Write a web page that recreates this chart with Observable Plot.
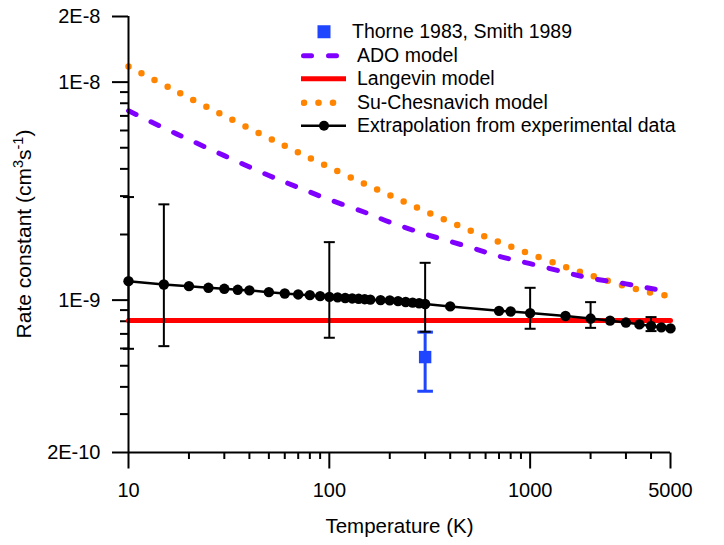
<!DOCTYPE html>
<html><head><meta charset="utf-8">
<script src="https://cdn.jsdelivr.net/npm/d3@7"></script>
<script src="https://cdn.jsdelivr.net/npm/@observablehq/plot@0.6"></script>
<style>
body{margin:0;background:#fff;font-family:'Liberation Sans',Arial,sans-serif;}
#wrap{position:relative;width:724px;height:545px;}
#legend{position:absolute;left:301px;top:20px;font-size:19.5px;line-height:23.5px;color:#000;}
.row{display:flex;align-items:center;height:23.5px;white-space:nowrap;}
.row svg{flex:none;display:block;}
</style></head><body><div id="wrap"><div id="legend"></div></div>
<script>
// ---- data ----
const xDomain = [10, 5000];
const yDomain = [2e-10, 2e-8];
const xMajor = [10, 100, 1000, 5000];
const xMajorLabels = ["10", "100", "1000", "5000"];
const xMinor = [20,30,40,50,60,70,80,90,200,300,400,500,600,700,800,900,2000,3000,4000];
const yMajor = [2e-10, 1e-9, 1e-8, 2e-8];
const yMajorLabels = ["2E-10", "1E-9", "1E-8", "2E-8"];
const yMinor = [3e-10,4e-10,5e-10,6e-10,7e-10,8e-10,9e-10,2e-9,3e-9,4e-9,5e-9,6e-9,7e-9,8e-9,9e-9];

const expTemp = [10,15,20,25,30,35,40,50,60,70,80,90,100,110,120,130,140,150,160,180,200,220,240,260,280,300,400,700,800,1000,1500,2000,2500,3000,3500,4000,4500,5000];
const expRate = [1.222e-9,1.18e-9,1.159e-9,1.139e-9,1.127e-9,1.115e-9,1.108e-9,1.088e-9,1.073e-9,1.062e-9,1.054e-9,1.043e-9,1.035e-9,1.029e-9,1.023e-9,1.018e-9,1.014e-9,1.010e-9,1.005e-9,1.000e-9,0.997e-9,0.990e-9,0.980e-9,0.974e-9,0.967e-9,0.960e-9,0.936e-9,0.893e-9,0.887e-9,0.872e-9,0.846e-9,0.823e-9,0.805e-9,0.789e-9,0.774e-9,0.761e-9,0.750e-9,0.742e-9];

const errTemp = [10, 15, 100, 300, 1000, 2000, 4000];
const errLow  = [0.598e-9, 0.615e-9, 0.672e-9, 0.716e-9, 0.739e-9, 0.746e-9, 0.721e-9];
const errHigh = [2.97e-9, 2.75e-9, 1.845e-9, 1.483e-9, 1.139e-9, 0.979e-9, 0.836e-9];

const thorneTemp = [300];
const thorneRate = [0.548e-9];
const thorneLow  = [0.382e-9];
const thorneHigh = [0.713e-9];

const langevinTemp = [10, 5000];
const langevinRate = [8.07e-10, 8.07e-10];

const modelTemp = [10,15,20,30,50,70,100,150,200,300,500,700,1000,1500,2000,3000,4000,5000];
const adoRate = [7.39e-9,6.16e-9,5.45e-9,4.60e-9,3.73e-9,3.29e-9,2.89e-9,2.53e-9,2.28e-9,2.01e-9,1.75e-9,1.59e-9,1.47e-9,1.34e-9,1.26e-9,1.187e-9,1.13e-9,1.09e-9];
const scRate  = [11.78e-9,9.72e-9,8.47e-9,7.01e-9,5.54e-9,4.76e-9,4.07e-9,3.41e-9,3.03e-9,2.56e-9,2.09e-9,1.85e-9,1.63e-9,1.42e-9,1.30e-9,1.156e-9,1.082e-9,1.04e-9];

const seriesNames = ["Thorne 1983, Smith 1989", "ADO model", "Langevin model", "Su-Chesnavich model", "Extrapolation from experimental data"];
const colors = {blue: "#1f45ff", purple: "#8000ff", red: "#ff0000", orange: "#ff8500", black: "#000000"};

// ---- tables ----
const exp = expTemp.map((T, i) => ({T, k: expRate[i]}));
const err = errTemp.map((T, i) => ({T, lo: errLow[i], hi: errHigh[i]}));
const thorne = thorneTemp.map((T, i) => ({T, k: thorneRate[i], lo: thorneLow[i], hi: thorneHigh[i]}));
const langevin = langevinTemp.map((T, i) => ({T, k: langevinRate[i]}));
const ado = modelTemp.map((T, i) => ({T, k: adoRate[i]}));
const sc = modelTemp.map((T, i) => ({T, k: scRate[i]}));
const xTicks = xMajor.map((v, i) => ({v, label: xMajorLabels[i], base: yDomain[0]}));
const yLabel = new Map(yMajor.map((v, i) => [v, yMajorLabels[i]]));

// custom symbols: horizontal error-bar cap, and a downward tick of fixed length
const cap = {draw(ctx, size) { const r = Math.sqrt(size / Math.PI); ctx.moveTo(-r, 0); ctx.lineTo(r, 0); }};
const downTick = {draw(ctx, size) { const r = Math.sqrt(size / Math.PI); ctx.moveTo(0, 0); ctx.lineTo(0, r); }};

const plot = Plot.plot({
  width: 724, height: 545,
  marginLeft: 128, marginRight: 54, marginTop: 16, marginBottom: 93,
  x: {type: "log", domain: xDomain},
  y: {type: "log", domain: yDomain},
  style: {fontFamily: "'Liberation Sans', Arial, sans-serif", fontSize: "20px", color: "black", background: "white"},
  marks: [
    Plot.axisY(yMinor, {tickSize: 8, tickFormat: () => "", strokeWidth: 2, label: null}),
    Plot.axisY(yMajor, {tickSize: 16, tickPadding: 12, tickFormat: d => yLabel.get(d), strokeWidth: 2, label: null}),
    Plot.axisX(xMinor, {tickSize: 7, tickFormat: () => "", strokeWidth: 2, label: null}),
    Plot.dot(xTicks, {x: "v", y: "base", symbol: downTick, r: 16, stroke: "black", strokeWidth: 2, fill: "none"}),
    Plot.text(xTicks, {x: "v", y: "base", text: "label", dy: 30, lineAnchor: "top", fill: "black"}),
    Plot.line(langevin, {x: "T", y: "k", stroke: colors.red, strokeWidth: 5}),
    Plot.line(sc, {x: "T", y: "k", stroke: colors.orange, strokeWidth: 6.5, strokeDasharray: "0,14.6", strokeLinecap: "round", curve: "catmull-rom"}),
    Plot.line(ado, {x: "T", y: "k", stroke: colors.purple, strokeWidth: 5, strokeDasharray: "8.5,16.5", strokeLinecap: "round", curve: "catmull-rom"}),
    Plot.ruleX(thorne, {x: "T", y1: "lo", y2: "hi", stroke: colors.blue, strokeWidth: 3}),
    Plot.dot(thorne, {x: "T", y: "lo", symbol: cap, r: 7.8, stroke: colors.blue, strokeWidth: 3, fill: "none"}),
    Plot.dot(thorne, {x: "T", y: "hi", symbol: cap, r: 7.8, stroke: colors.blue, strokeWidth: 3, fill: "none"}),
    Plot.dot(thorne, {x: "T", y: "k", symbol: "square", r: 7, fill: colors.blue}),
    Plot.ruleX(err, {x: "T", y1: "lo", y2: "hi", stroke: colors.black, strokeWidth: 2}),
    Plot.dot(err, {x: "T", y: "lo", symbol: cap, r: 5.5, stroke: colors.black, strokeWidth: 2, fill: "none"}),
    Plot.dot(err, {x: "T", y: "hi", symbol: cap, r: 5.5, stroke: colors.black, strokeWidth: 2, fill: "none"}),
    Plot.line(exp, {x: "T", y: "k", stroke: colors.black, strokeWidth: 2.5}),
    Plot.dot(exp, {x: "T", y: "k", r: 5.2, fill: colors.black}),
    Plot.ruleX([xDomain[0]], {stroke: "black", strokeWidth: 2}),
    Plot.ruleY([yDomain[0]], {stroke: "black", strokeWidth: 2})
  ]
});

const svg = d3.select(plot);
svg.append("text")
  .attr("x", 399.5).attr("y", 533)
  .attr("text-anchor", "middle").attr("font-size", 20.5).attr("fill", "black")
  .text("Temperature (K)");
const yt = svg.append("text")
  .attr("transform", "translate(31,234) rotate(-90)")
  .attr("text-anchor", "middle").attr("font-size", 21).attr("fill", "black");
yt.append("tspan").text("Rate constant (cm");
yt.append("tspan").attr("dy", -8).attr("font-size", 14.5).text("3");
yt.append("tspan").attr("dy", 8).text("s");
yt.append("tspan").attr("dy", -8).attr("font-size", 14.5).text("-1");
yt.append("tspan").attr("dy", 8).text(")");

const wrap = document.getElementById("wrap");
wrap.insertBefore(plot, wrap.firstChild);

// ---- legend ----
const swatches = [
  `<rect x="16.5" y="5.25" width="13" height="13" fill="${colors.blue}"/>`,
  `<line x1="2.5" x2="10.5" y1="11.75" y2="11.75" stroke="${colors.purple}" stroke-width="5" stroke-linecap="round"/><line x1="27.5" x2="35.5" y1="11.75" y2="11.75" stroke="${colors.purple}" stroke-width="5" stroke-linecap="round"/>`,
  `<line x1="0" x2="45" y1="11.75" y2="11.75" stroke="${colors.red}" stroke-width="5"/>`,
  `<circle cx="3" cy="11.75" r="3.3" fill="${colors.orange}"/><circle cx="17.5" cy="11.75" r="3.3" fill="${colors.orange}"/><circle cx="32" cy="11.75" r="3.3" fill="${colors.orange}"/>`,
  `<line x1="0" x2="45" y1="11.75" y2="11.75" stroke="black" stroke-width="2.5"/><circle cx="23" cy="11.75" r="5" fill="black"/>`
];
const legend = document.getElementById("legend");
legend.innerHTML = seriesNames.map((name, i) =>
  `<div class="row"><svg width="45" height="23.5">${swatches[i]}</svg><span style="margin-left:${i === 0 ? 6 : 11}px">${name}</span></div>`
).join("");
</script>
</body></html>
